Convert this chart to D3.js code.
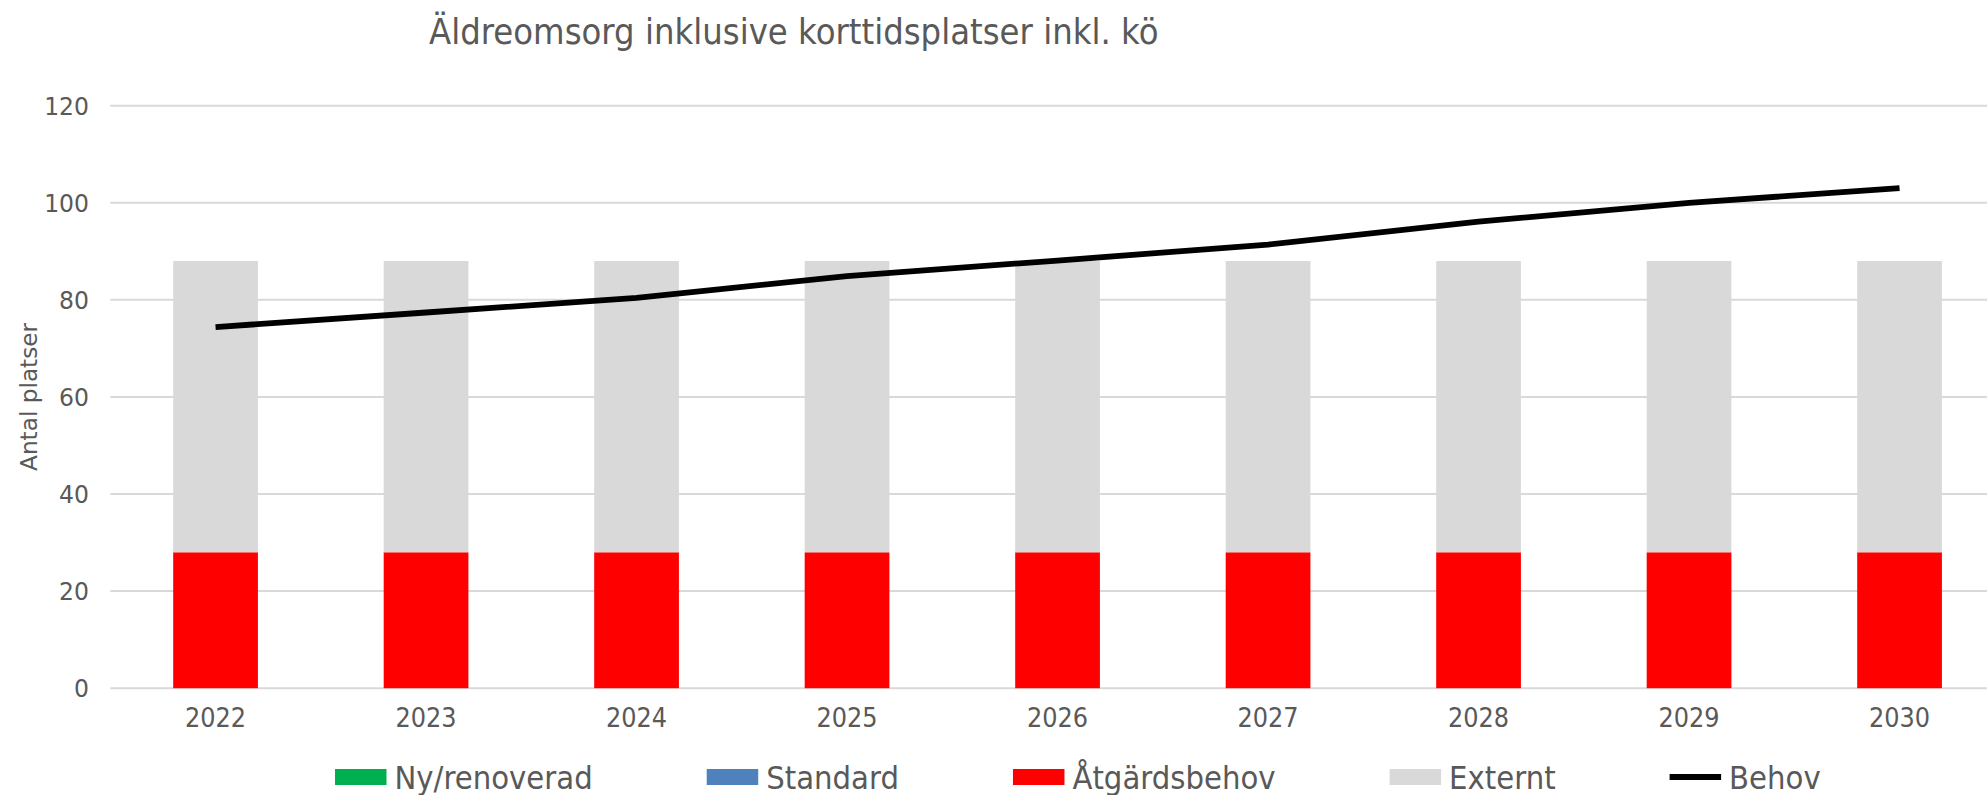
<!DOCTYPE html>
<html lang="sv">
<head>
<meta charset="utf-8">
<script src="https://cdn.jsdelivr.net/npm/d3@7"></script>
<style>
  html, body { margin: 0; padding: 0; background: #ffffff; overflow: hidden; }
  svg { display: block; }
  text { font-family: "DejaVu Sans", Verdana, sans-serif; fill: #595959; }
</style>
</head>
<body>
<svg id="chart" width="1987" height="795"></svg>
<script>
// Chart data
const years = ["2022", "2023", "2024", "2025", "2026", "2027", "2028", "2029", "2030"];
const nyRenoverad = [0, 0, 0, 0, 0, 0, 0, 0, 0];
const standard = [0, 0, 0, 0, 0, 0, 0, 0, 0];
const atgardsbehov = [28, 28, 28, 28, 28, 28, 28, 28, 28];
const externt = [60, 60, 60, 60, 60, 60, 60, 60, 60];
const behov = [74.4, 77.4, 80.4, 84.9, 88.1, 91.4, 96.1, 100.0, 103.0];
const yTicks = [0, 20, 40, 60, 80, 100, 120];

const seriesNames = ["Ny/renoverad", "Standard", "Åtgärdsbehov", "Externt"];
const seriesColors = ["#00b050", "#4f81bd", "#ff0000", "#d9d9d9"];
const lineName = "Behov";

const title = "Äldreomsorg inklusive korttidsplatser inkl. kö";
const yTitle = "Antal platser";

// Text glyphs are drawn slightly taller than wide
const stretchY = 1.07;
function stretchText(sel, xPos, yPos) {
  sel.attr("x", 0).attr("y", 0)
    .attr("transform", `translate(${xPos},${yPos}) scale(1,${stretchY})`);
}

const svg = d3.select("#chart");

// Plot area
const plot = { left: 110.3, top: 105.7, bottom: 688.2 };
const step = 210.5;
plot.right = plot.left + step * years.length;

const x = d3.scaleBand().domain(years).range([plot.left, plot.right]).padding(0);
const barWidth = x.bandwidth() * 0.4025;
const y = d3.scaleLinear().domain([0, 120]).range([plot.bottom, plot.top]);

// Gridlines
svg.append("g")
  .selectAll("line")
  .data(yTicks)
  .join("line")
  .attr("x1", plot.left)
  .attr("x2", plot.right)
  .attr("y1", d => y(d))
  .attr("y2", d => y(d))
  .attr("stroke", "#d9d9d9")
  .attr("stroke-width", 2);

// Y axis labels
const yAxis = d3.axisLeft(y).tickValues(yTicks).tickSize(0).tickPadding(0);
const yG = svg.append("g").attr("transform", `translate(89,0)`).call(yAxis);
yG.select(".domain").remove();
yG.selectAll("text")
  .attr("font-size", 23.5)
  .attr("fill", "#595959")
  .attr("font-family", "DejaVu Sans, Verdana, sans-serif")
  .attr("dy", "0.36em")
  .attr("transform", `scale(1,${stretchY})`)
  .attr("y", function () { return 0; });
yG.selectAll(".tick")
  .attr("transform", d => `translate(0,${y(d)})`);

// X axis labels
const xAxis = d3.axisBottom(x).tickSize(0).tickPadding(0);
const xG = svg.append("g").attr("transform", `translate(0,${plot.bottom})`).call(xAxis);
xG.select(".domain").remove();
xG.selectAll("text")
  .attr("font-size", 24)
  .attr("fill", "#595959")
  .attr("font-family", "DejaVu Sans, Verdana, sans-serif")
  .attr("dy", 0)
  .attr("y", 0)
  .attr("transform", `translate(0,39) scale(1,${stretchY})`);

// Stacked bars
const rows = years.map((yr, i) => ({
  year: yr,
  [seriesNames[0]]: nyRenoverad[i],
  [seriesNames[1]]: standard[i],
  [seriesNames[2]]: atgardsbehov[i],
  [seriesNames[3]]: externt[i]
}));
const stacked = d3.stack().keys(seriesNames)(rows);

svg.append("g")
  .selectAll("g")
  .data(stacked)
  .join("g")
  .attr("fill", (d, i) => seriesColors[i])
  .selectAll("rect")
  .data(d => d)
  .join("rect")
  .attr("x", d => x(d.data.year) + (x.bandwidth() - barWidth) / 2)
  .attr("width", barWidth)
  .attr("y", d => y(d[1]))
  .attr("height", d => Math.max(0, y(d[0]) - y(d[1])));

// Demand line
const line = d3.line()
  .x((d, i) => x(years[i]) + x.bandwidth() / 2)
  .y(d => y(d));

svg.append("path")
  .datum(behov)
  .attr("fill", "none")
  .attr("stroke", "#000000")
  .attr("stroke-width", 5.8)
  .attr("stroke-linejoin", "round")
  .attr("stroke-linecap", "butt")
  .attr("d", line);

// Title
svg.append("text")
  .attr("font-size", 32.4)
  .attr("fill", "#595959")
  .text(title)
  .call(stretchText, 429, 44);

// Y axis title
svg.append("text")
  .attr("transform", `translate(37,${(plot.top + plot.bottom) / 2}) rotate(-90)`)
  .attr("text-anchor", "middle")
  .attr("font-size", 23.2)
  .attr("fill", "#595959")
  .text(yTitle);

// Legend
const legend = svg.append("g");
const legendItems = seriesNames.map((n, i) => ({ name: n, color: seriesColors[i], type: "rect" }))
  .concat([{ name: lineName, color: "#000000", type: "line" }]);
let lx = 335;
const swatchW = 51.5;
const textGap = 8;
const itemGap = 114;
legendItems.forEach(item => {
  const g = legend.append("g");
  if (item.type === "rect") {
    g.append("rect")
      .attr("x", lx).attr("y", 769)
      .attr("width", swatchW).attr("height", 16)
      .attr("fill", item.color);
  } else {
    g.append("line")
      .attr("x1", lx).attr("x2", lx + swatchW)
      .attr("y1", 777).attr("y2", 777)
      .attr("stroke", item.color).attr("stroke-width", 5.8);
  }
  const t = g.append("text")
    .attr("font-size", 29.2)
    .attr("fill", "#595959")
    .text(item.name)
    .call(stretchText, lx + swatchW + textGap, 788.5);
  lx += swatchW + textGap + t.node().getComputedTextLength() + itemGap;
});
</script>
</body>
</html>
